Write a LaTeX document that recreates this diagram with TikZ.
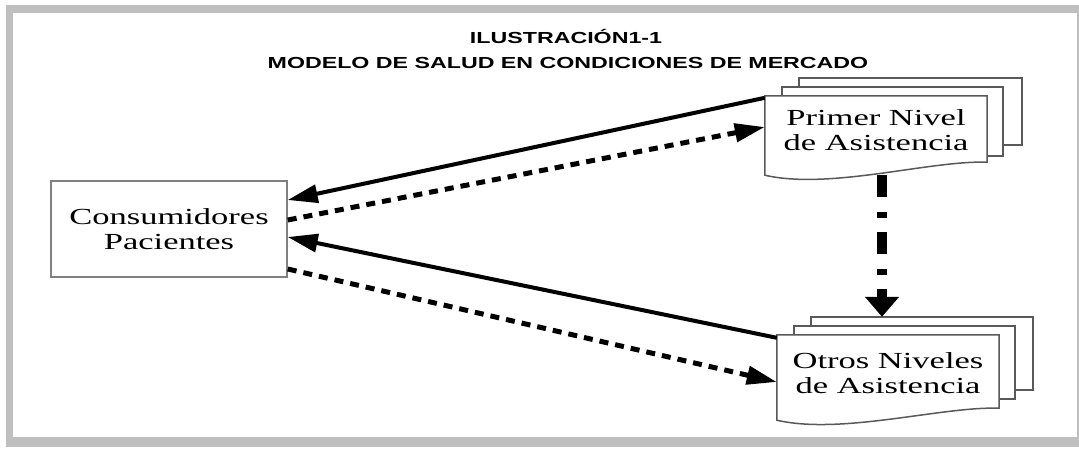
\documentclass[tikz,border=0pt]{standalone}
\usepackage{graphicx}
\usepackage{fontspec}
\setmainfont{Liberation Serif}
\newfontfamily\titlefont{Liberation Sans}
\usetikzlibrary{
  arrows.meta,
  backgrounds,
}
\newcommand\widetxt[1]{\scalebox{1.5}[1]{#1}}
\newcommand\widetitle[1]{\scalebox{1.45}[1]{#1}}

\begin{document}
\begin{tikzpicture}[
  x=1pt, y=-1pt,
  titl/.style={anchor=base, inner sep=0pt, font=\titlefont\bfseries\fontsize{16}{19}\selectfont},
  txt/.style={inner sep=0pt, align=center, font=\fontsize{23}{25}\selectfont},
  box/.style={txt, draw=black!50, line width=1.5pt, minimum width=236pt, minimum height=96pt},
  doc/.style={txt, minimum width=222pt},
  docline/.style={draw=black!65, line width=1.5pt, fill=white},
  flow/.style={line width=4pt, -{Triangle[length=30pt,width=18pt]}},
  back/.style={flow, line width=5pt, dash pattern=on 9pt off 7pt},
  refer/.style={line width=10pt, dash pattern=on 22pt off 15pt on 6pt off 14pt, -{Triangle[length=20pt,width=33pt]}},
]
\useasboundingbox (0,0) rectangle (1079,448);

\node[titl] (t1) at (566,43) {\widetitle{ILUSTRACIÓN1-1}};
\node[titl] (t2) at (568,68) {\widetitle{MODELO DE SALUD EN CONDICIONES DE MERCADO}};

\node[box] (cons) at (169,229) {\widetxt{Consumidores}\\\widetxt{Pacientes}};
\node[doc, minimum height=69pt] (prim) at (876,130.5) {\widetxt{Primer Nivel}\\\widetxt{de Asistencia}};
\node[doc, minimum height=77pt] (otros) at (888,373.5) {\widetxt{Otros Niveles}\\\widetxt{de Asistencia}};

\begin{scope}[on background layer]
  \fill[black!25] (6,5) rectangle (1079,447);
  \fill[white] (13,13) rectangle (1077,437);
  % stacked documents
  \draw[docline] ([xshift=34pt,yshift=18pt]prim.north west) rectangle ([xshift=35pt,yshift=20pt]prim.south east);
  \draw[docline] ([xshift=17pt,yshift=9pt]prim.north west) rectangle ([xshift=16pt,yshift=9pt]prim.south east);
  \draw[docline] (prim.north west) -- ([yshift=-10pt]prim.south west)
    .. controls +(65,15) and +(-57,-2) .. ([yshift=3pt]prim.south east) -- (prim.north east) -- cycle;
  \draw[docline] ([xshift=34pt,yshift=18pt]otros.north west) rectangle ([xshift=34pt,yshift=22pt]otros.south east);
  \draw[docline] ([xshift=17pt,yshift=9pt]otros.north west) rectangle ([xshift=16pt,yshift=13pt]otros.south east);
  \draw[docline] (otros.north west) -- ([yshift=-8pt]otros.south west)
    .. controls +(65,15) and +(-57,-2) .. ([yshift=4pt]otros.south east) -- (otros.north east) -- cycle;
\end{scope}

\draw[flow] ([yshift=-2pt]prim.north west) -- ([yshift=29pt]cons.east);
\draw[back] ([yshift=9pt]cons.east) -- ([yshift=3.5pt]prim.west);
\draw[flow] ([yshift=-3pt]otros.north west) -- ([yshift=-8pt]cons.east);
\draw[back] ([yshift=-40pt]cons.east) -- ([yshift=-8.5pt]otros.west);
\draw[refer] ([xshift=6pt,yshift=-10pt]prim.south) -- ([xshift=-6pt,yshift=18pt]otros.north);
\end{tikzpicture}
\end{document}
